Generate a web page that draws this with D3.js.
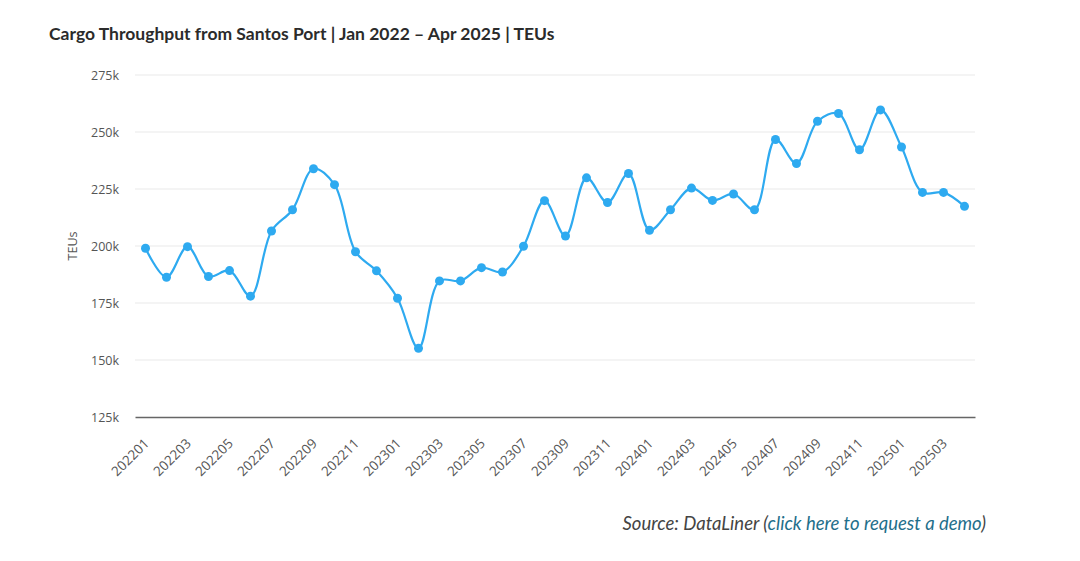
<!DOCTYPE html>
<html>
<head>
<meta charset="utf-8">
<script src="https://cdn.jsdelivr.net/npm/d3@7"></script>
<style>
  body { margin: 0; background: #fff; }
  svg { display: block; }
</style>
</head>
<body>
<div id="vis"></div>
<script>
// months on the x axis and monthly TEUs (thousands)
var months = [
  '202201','202202','202203','202204','202205','202206','202207','202208','202209','202210','202211','202212',
  '202301','202302','202303','202304','202305','202306','202307','202308','202309','202310','202311','202312',
  '202401','202402','202403','202404','202405','202406','202407','202408','202409','202410','202411','202412',
  '202501','202502','202503','202504'
];
var teus = [
  199.0, 186.3, 199.7, 186.6, 189.2, 178.0, 206.6, 215.9, 233.9, 226.9, 197.5, 189.1,
  177.1, 155.1, 184.7, 184.7, 190.5, 188.6, 199.9, 219.9, 204.4, 229.9, 219.1, 231.8,
  206.9, 215.9, 225.4, 220.0, 222.8, 215.9, 246.7, 236.2, 254.7, 258.1, 242.2, 259.7,
  243.4, 223.5, 223.5, 217.4
];
var yTicks = [125, 150, 175, 200, 225, 250, 275];

var width = 1080;
var height = 561;
var margin = { top: 75, left: 135, bottom: 144, right: 105 };

var svg = d3.select('#vis').append('svg')
    .attr('width', width)
    .attr('height', height);

var innerW = width - margin.left - margin.right;
var innerH = height - margin.top - margin.bottom;

var g = svg.append('g')
    .attr('transform', 'translate(' + margin.left + ',' + margin.top + ')');

var xScale = d3.scaleBand()
    .domain(months)
    .range([0, innerW]);

var yScale = d3.scaleLinear()
    .domain([125, 275])
    .range([innerH, 0]);

var data = months.map(function (m, i) { return { month: m, value: teus[i] }; });
var xc = function (d) { return xScale(d.month) + xScale.bandwidth() / 2; };

// grid lines
g.selectAll('.grid').data(yTicks.slice(1)).enter()
    .append('line')
    .attr('class', 'grid')
    .attr('x1', 0).attr('x2', innerW)
    .attr('y1', function (d) { return yScale(d); })
    .attr('y2', function (d) { return yScale(d); })
    .attr('stroke', '#e9e9e9')
    .attr('stroke-width', 1);

// y axis labels
var yAxis = d3.axisLeft(yScale)
    .tickValues(yTicks)
    .tickSize(0)
    .tickPadding(16)
    .tickFormat(function (d) { return d + 'k'; });

g.append('g')
    .attr('class', 'y axis')
    .call(yAxis)
    .call(function (s) { s.select('.domain').remove(); })
    .selectAll('text')
    .attr('fill', '#555')
    .style('font-family', '"Open Sans", sans-serif')
    .style('font-size', '12.5px');

// x axis
var xAxis = d3.axisBottom(xScale)
    .tickValues(months.filter(function (d, i) { return i % 2 === 0; }))
    .tickSize(0);

var xg = g.append('g')
    .attr('class', 'x axis')
    .attr('transform', 'translate(0,' + innerH + ')')
    .call(xAxis);

xg.select('.domain')
    .attr('stroke', '#666')
    .attr('stroke-width', 1.5);

xg.selectAll('text')
    .attr('fill', '#555')
    .style('font-family', '"Open Sans", sans-serif')
    .style('font-size', '13.5px')
    .attr('text-anchor', 'end')
    .attr('transform', 'translate(1,24) rotate(-45)')
    .attr('dy', '0.35em')
    .attr('y', 0);

// y axis title
svg.append('text')
    .attr('transform', 'translate(77,' + (margin.top + yScale(200)) + ') rotate(-90)')
    .attr('text-anchor', 'middle')
    .attr('fill', '#555')
    .style('font-family', '"Open Sans", sans-serif')
    .style('font-size', '12.5px')
    .text('TEUs');

// line
var line = d3.line()
    .x(xc)
    .y(function (d) { return yScale(d.value); })
    .curve(d3.curveCatmullRom.alpha(0.5));

g.append('path')
    .datum(data)
    .attr('fill', 'none')
    .attr('stroke', '#2eaaf0')
    .attr('stroke-width', 2.2)
    .attr('d', line);

g.selectAll('.dot').data(data).enter()
    .append('circle')
    .attr('class', 'dot')
    .attr('cx', xc)
    .attr('cy', function (d) { return yScale(d.value); })
    .attr('r', 4.5)
    .attr('fill', '#2eaaf0');

// title
svg.append('text')
    .attr('x', 49)
    .attr('y', 40)
    .attr('fill', '#2b2b2b')
    .style('font-family', 'Lato, "Open Sans", sans-serif')
    .style('font-weight', 'bold')
    .style('font-size', '17.5px')
    .text('Cargo Throughput from Santos Port | Jan 2022 \u2013 Apr 2025 | TEUs');

// source
var src = svg.append('text')
    .attr('x', 986)
    .attr('y', 530)
    .attr('text-anchor', 'end')
    .style('font-family', 'Lato, "Open Sans", sans-serif')
    .style('font-style', 'italic')
    .style('font-size', '18.5px');
src.append('tspan').attr('fill', '#444').text('Source: DataLiner (');
src.append('tspan').attr('fill', '#1f6f8b').text('click here to request a demo');
src.append('tspan').attr('fill', '#444').text(')');
</script>
</body>
</html>
